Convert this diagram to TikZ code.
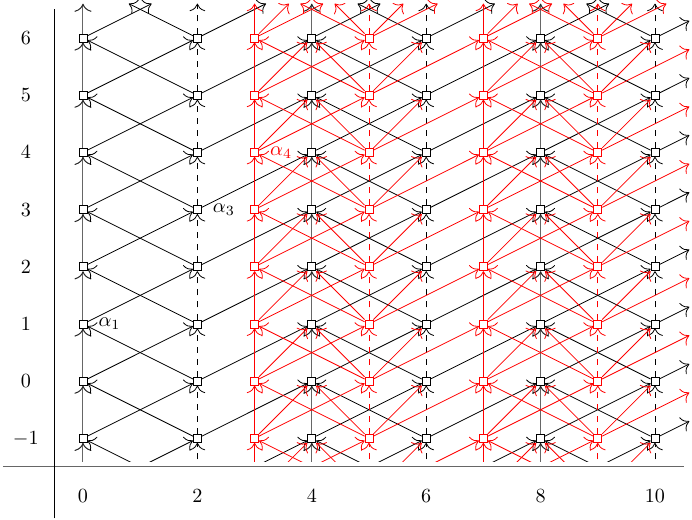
\documentclass[tikz,border=0pt]{standalone}
\usetikzlibrary{arrows.meta}
\newcommand\famedges[3]{%
  \foreach \yy in {-2,...,6}{%
    \pgfmathtruncatemacro\tx{#1+(#2)}%
    \pgfmathtruncatemacro\ty{\yy+1}%
    \ifnum\yy=-2\relax
      \ifnum\tx<11\relax
        \begin{scope}
          \clip (-1,-1.4) rectangle (11,7);
          \coordinate (s#1-\tx) at (#1,-2);
          \draw[#3] (s#1-\tx) -- (n\tx-\ty);
        \end{scope}
      \fi
    \else
      \pgfmathtruncatemacro\inr{(\tx<11)&&(\ty<7)}%
      \ifnum\inr=1\relax
        \draw[#3] (n#1-\yy) -- (n\tx-\ty);
      \else
        \pgfmathsetmacro\tp{(\ty>6) ? 0.6 : 1}%
        \pgfmathsetmacro\tp{(#2>0) ? min(\tp,(10.6-#1)/max(#2,0.01)) : \tp}%
        \coordinate (e#1-\yy-\tx) at ({#1+\tp*(#2)},{\yy+\tp});
        \draw[#3] (n#1-\yy) -- (e#1-\yy-\tx);
      \fi
    \fi
  }%
}
\begin{document}
\begin{tikzpicture}[>={To[scale=1.5]},
  cls/.style={rectangle, draw, fill=white, inner sep=0pt, minimum size=4pt},
  bcls/.style={cls, draw=black},
  rcls/.style={cls, draw=red},
  bsolid/.style={-{To[scale=1.5,color=black!85]}, black!60, line width=0.5pt},
  bdash/.style={->, black, dashed},
  bdiag/.style={->, black},
  rsolid/.style={->, red},
  rdash/.style={->, red, dashed},
  rdiag/.style={->, red},
  alab/.style={right, xshift=2pt}]
\useasboundingbox (-1.451,-2.427) rectangle (10.647,6.664);
% axes
\draw[black!60, line width=0.5pt] (-1.4,-1.5) -- (10.5,-1.5);
\draw (-0.5,-2.4) -- (-0.5,6.5);
\foreach \y in {-1,...,6} \node (yl\y) at (-1,\y) {$\y$};
\foreach \x in {0,2,...,10} \node (xl\x) at (\x,-2) {$\x$};
% classes
\foreach \x in {0,2,...,10} \foreach \y in {-1,...,6} \node[bcls] (n\x-\y) at (\x,\y) {};
\foreach \x in {3,5,7,9} \foreach \y in {-1,...,6} \node[rcls] (n\x-\y) at (\x,\y) {};
% black structure lines
\foreach \x in {0,4,8} {\famedges{\x}{0}{bsolid}}
\foreach \x in {2,6,10} {\famedges{\x}{0}{bdash}}
\foreach \x in {0,2,4,6,8,10} {\famedges{\x}{2}{bdiag}}
\foreach \x in {2,6,10} {\famedges{\x}{-2}{bdiag}}
% red structure lines
\foreach \x in {3,7} {\famedges{\x}{0}{rsolid}}
\foreach \x in {5,9} {\famedges{\x}{0}{rdash}}
\foreach \x in {3,5,7,9} {\famedges{\x}{2}{rdiag}}
\foreach \x in {5,9} {\famedges{\x}{-2}{rdiag}}
\foreach \x/\d in {3/1,5/-1,5/1,7/1,9/-1,9/1} {\famedges{\x}{\d}{rdiag}}
% labels
\node[alab] (la1) at (n0-1.east) {$\alpha_1$};
\node[alab] (la3) at (n2-3.east) {$\alpha_3$};
\node[alab, text=red] (la4) at (n3-4.east) {$\alpha_4$};
\end{tikzpicture}
\end{document}
